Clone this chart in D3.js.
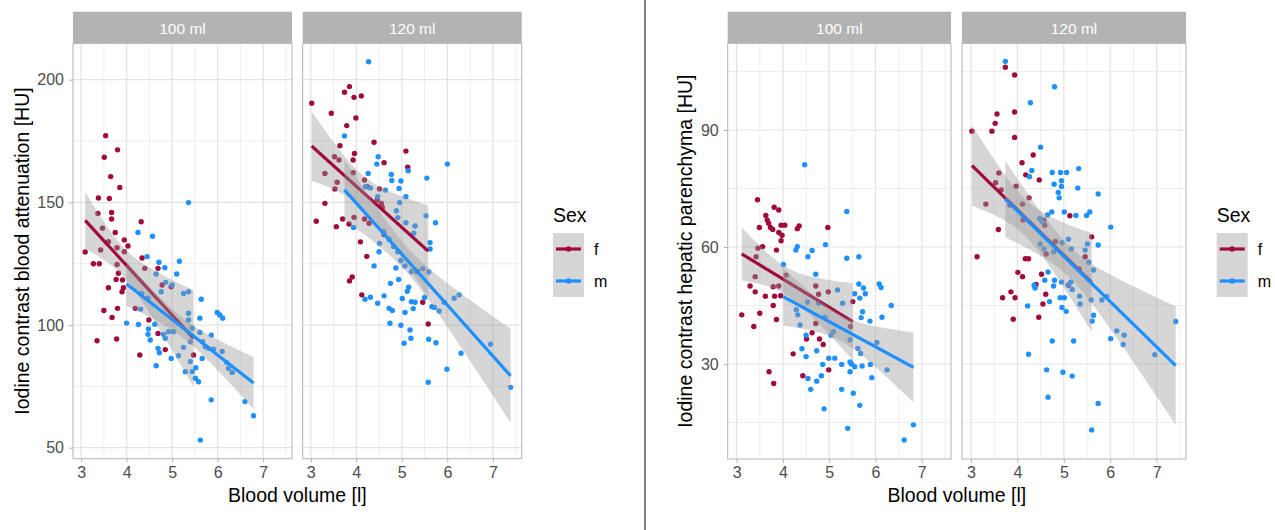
<!DOCTYPE html>
<html><head><meta charset="utf-8">
<script src="https://cdn.jsdelivr.net/npm/d3@7"></script>
<style>
body{margin:0;background:#fff}
svg{display:block;font-family:"Liberation Sans",Arial,Helvetica,sans-serif}
</style>
</head><body>
<svg id="chart" width="1275" height="530"></svg>
<script>
// ---------- categories / ticks ----------
const facets = ["100 ml", "120 ml"];
const sexes = ["f", "m"];
const xTicks = [3, 4, 5, 6, 7];
const xMinor = [3.5, 4.5, 5.5, 6.5, 7.5];
const attYTicks = [50, 100, 150, 200];
const attYMinor = [75, 125, 175];
const hepYTicks = [30, 60, 90];
const hepYMinor = [15, 45, 75, 105];
const xTitle = "Blood volume [l]";
const attTitle = "Iodine contrast blood attenuation [HU]";
const hepTitle = "Iodine contrast hepatic parenchyma [HU]";
const legendTitle = "Sex";

// ---------- data: [blood volume (l), HU] ----------
const att100F = [[3.54,177.2],[3.80,171.4],[3.51,168.4],[3.65,160.5],[3.85,156.1],[3.38,151.8],[3.62,151.6],[3.37,145.5],[3.67,145.9],[3.67,143.2],[4.32,142.1],[3.75,137.7],[3.47,139.5],[3.95,134.7],[4.03,132.2],[3.60,134.0],[3.95,129.9],[3.43,130.6],[3.09,129.8],[3.79,131.5],[3.27,125.0],[3.40,125.0],[4.34,127.3],[3.79,124.7],[4.40,123.1],[4.69,123.1],[3.82,121.1],[3.77,118.6],[3.91,118.4],[3.93,115.2],[3.60,115.2],[3.90,113.6],[3.50,105.9],[3.68,103.1],[3.80,106.8],[4.19,106.8],[4.49,102.1],[4.69,96.6],[3.35,93.6],[3.78,94.3],[4.29,87.8],[4.85,90.0],[4.98,115.6],[4.78,116.3],[5.47,87.8]];
const att100M = [[5.36,149.9],[4.25,137.7],[4.57,136.2],[4.45,127.9],[4.71,125.6],[5.16,126.0],[4.84,123.4],[5.10,120.8],[4.65,120.8],[4.86,117.4],[5.00,116.3],[4.76,113.6],[5.25,112.9],[5.36,113.6],[5.64,110.5],[4.33,112.9],[4.47,110.9],[4.31,106.5],[4.00,100.8],[4.26,100.2],[4.62,100.3],[4.48,98.4],[4.47,96.2],[4.52,93.9],[4.81,96.2],[4.92,97.3],[5.03,97.3],[4.85,94.6],[4.69,90.5],[4.72,88.7],[5.14,87.5],[4.98,86.4],[4.65,83.4],[5.29,81.0],[5.44,81.0],[5.40,85.1],[5.52,82.6],[5.51,78.3],[5.58,76.9],[5.61,102.8],[5.36,104.8],[5.36,102.1],[5.44,98.7],[5.67,93.2],[5.61,97.0],[5.86,95.9],[5.99,105.1],[6.05,104.1],[6.11,102.8],[5.73,91.2],[5.80,90.5],[5.91,90.2],[6.10,89.2],[5.66,86.4],[6.20,84.7],[6.24,82.4],[6.32,80.7],[5.86,69.5],[6.60,68.8],[6.79,63.0],[5.62,53.1],[5.40,93.2],[5.25,90.9]];
const att120F = [[3.02,190.4],[3.74,194.9],[3.85,197.2],[3.95,192.8],[4.11,193.4],[3.45,186.3],[3.99,184.4],[3.79,181.3],[4.39,174.5],[3.64,173.1],[5.09,170.9],[3.96,169.9],[3.93,167.3],[4.61,166.2],[5.13,164.3],[3.52,168.6],[3.62,167.3],[3.31,161.8],[3.93,162.1],[4.18,159.1],[3.58,158.2],[3.53,155.5],[4.51,155.5],[4.24,156.4],[3.31,149.6],[4.46,151.0],[4.55,149.6],[4.57,147.9],[3.12,142.3],[3.56,140.1],[3.70,143.2],[3.84,141.2],[3.95,143.9],[4.18,143.2],[4.28,141.5],[4.09,133.9],[4.23,128.0],[3.85,118.0],[3.91,119.6],[4.12,112.3],[5.46,109.3],[5.58,100.4],[4.61,136.9],[5.34,121.8]];
const att120M = [[4.27,207.3],[3.74,177.1],[4.48,168.6],[4.45,165.6],[5.14,162.9],[6.00,165.6],[4.26,161.8],[4.77,161.4],[4.78,158.9],[4.98,158.7],[5.55,159.9],[4.20,156.4],[4.31,155.9],[4.64,155.0],[4.94,155.7],[5.09,152.3],[4.95,149.9],[4.47,152.3],[4.88,146.6],[4.91,143.8],[5.09,141.7],[5.53,144.5],[5.74,141.7],[5.29,140.4],[5.26,137.4],[3.94,139.8],[4.51,133.3],[4.50,129.9],[4.60,138.1],[4.72,135.0],[4.82,132.0],[4.91,129.9],[5.62,133.6],[5.62,131.0],[4.39,124.1],[4.87,123.3],[4.98,126.3],[5.07,124.1],[5.21,121.8],[5.46,123.0],[5.59,121.6],[4.75,117.0],[4.93,118.6],[5.15,115.4],[5.12,113.8],[4.19,110.5],[4.31,111.3],[4.47,108.9],[4.61,111.9],[5.01,110.8],[5.21,109.5],[5.29,109.3],[5.25,106.7],[4.72,106.8],[4.79,105.9],[5.07,105.1],[5.50,111.2],[5.66,107.5],[5.72,107.2],[5.82,105.7],[5.93,109.3],[6.15,110.9],[6.26,112.3],[4.74,100.7],[4.98,99.9],[5.18,98.0],[5.20,94.6],[5.05,92.6],[5.59,94.2],[5.75,92.8],[6.30,88.5],[6.95,92.2],[5.99,82.0],[5.58,76.7],[7.39,74.6]];
const hep100F = [[3.45,72.1],[3.81,70.2],[3.91,69.5],[3.63,68.1],[3.66,66.9],[3.69,66.1],[3.49,65.0],[3.73,65.0],[3.78,64.5],[3.96,65.6],[4.04,65.6],[3.91,63.7],[3.98,63.0],[3.96,61.6],[4.31,64.7],[4.35,65.4],[4.97,65.0],[3.56,60.1],[3.46,59.7],[3.86,59.2],[3.42,57.5],[3.40,52.4],[4.07,52.8],[3.29,50.0],[3.40,48.5],[3.62,47.4],[3.79,49.8],[3.91,50.0],[3.82,47.4],[3.95,47.5],[3.79,45.0],[3.11,42.6],[3.50,43.0],[3.86,41.4],[3.37,39.6],[4.71,50.0],[4.77,47.9],[4.98,48.5],[5.51,46.0],[4.71,40.4],[4.63,38.0],[4.51,36.4],[4.79,36.4],[4.87,35.0],[4.22,32.6],[4.99,28.5],[3.70,28.0],[3.80,25.0],[4.43,27.0],[5.46,39.6]];
const hep100M = [[4.47,81.1],[5.38,69.1],[4.92,60.6],[4.31,60.1],[4.28,59.2],[4.63,59.1],[4.54,57.5],[5.38,57.1],[5.64,57.5],[4.01,55.5],[4.71,53.0],[5.64,50.5],[5.74,49.5],[6.08,50.5],[6.12,49.6],[5.55,48.0],[5.78,48.0],[5.66,46.9],[5.18,49.0],[5.29,45.6],[4.53,45.9],[4.77,45.6],[6.34,45.0],[4.29,43.9],[4.32,42.6],[5.72,43.4],[5.69,41.9],[6.14,42.0],[5.88,41.0],[4.37,40.0],[4.50,37.4],[4.91,42.0],[5.04,37.4],[5.09,38.3],[5.45,36.2],[5.62,34.0],[5.68,32.7],[4.41,33.9],[4.73,33.4],[4.50,31.9],[4.99,31.5],[5.12,31.5],[4.86,29.9],[5.27,29.9],[5.45,30.5],[5.48,30.0],[5.55,29.3],[5.71,29.5],[5.89,29.9],[5.45,28.0],[6.03,35.5],[6.25,28.5],[4.54,26.3],[4.83,27.0],[4.73,25.6],[5.92,26.5],[4.60,23.5],[5.27,23.5],[5.52,22.5],[4.89,18.5],[5.66,19.4],[5.40,13.5],[6.82,14.4],[6.62,10.5]];
const hep120F = [[3.74,106.1],[3.94,104.1],[3.56,94.1],[3.94,94.6],[3.52,91.7],[3.02,89.7],[3.45,89.7],[3.94,88.1],[4.34,83.6],[4.10,81.6],[4.18,78.5],[4.47,77.2],[3.60,79.0],[3.53,76.5],[3.97,75.6],[3.65,74.6],[4.25,72.6],[3.32,71.0],[4.11,71.0],[3.84,70.8],[4.12,66.9],[4.57,66.9],[4.59,65.6],[5.13,68.0],[3.59,64.5],[5.60,62.6],[4.82,61.4],[5.46,57.5],[3.13,57.5],[4.17,57.0],[4.24,57.0],[4.62,58.2],[4.01,53.5],[4.11,52.4],[4.52,53.0],[5.33,54.4],[4.40,50.4],[4.61,47.9],[3.86,48.5],[3.68,47.0],[3.95,47.0],[4.55,45.4],[3.91,41.5],[4.46,42.0],[5.10,50.2]];
const hep120M = [[3.74,107.6],[4.80,101.1],[4.28,97.0],[4.50,85.6],[4.31,79.6],[4.26,78.0],[4.75,79.1],[4.93,79.1],[5.06,79.1],[5.32,80.1],[4.95,77.0],[4.79,76.1],[4.95,75.5],[5.30,75.1],[4.88,74.0],[4.90,72.6],[5.74,73.6],[4.74,69.0],[5.01,69.0],[5.26,68.1],[5.49,68.1],[5.56,69.0],[4.65,68.2],[6.01,65.1],[4.48,67.3],[4.53,66.5],[5.10,62.0],[4.96,61.1],[4.49,60.8],[4.57,59.5],[4.78,58.8],[5.16,59.5],[5.46,59.2],[5.51,60.8],[5.74,60.5],[5.54,56.1],[5.64,54.1],[4.66,53.6],[4.59,51.5],[4.80,51.5],[4.95,51.0],[4.36,50.2],[4.38,49.5],[4.78,50.0],[5.09,50.3],[5.15,51.0],[5.18,49.1],[5.34,47.4],[4.69,46.0],[4.92,47.0],[5.01,47.0],[4.96,44.5],[5.05,43.5],[5.35,45.4],[5.59,46.4],[5.82,46.4],[5.92,47.3],[4.22,44.9],[5.64,42.5],[5.61,41.0],[6.14,38.5],[6.30,37.4],[6.01,36.5],[6.28,35.0],[6.96,32.4],[7.41,40.9],[4.75,35.9],[5.21,35.9],[4.24,32.5],[4.63,28.5],[4.98,27.9],[5.18,26.9],[4.66,21.5],[5.74,19.9],[5.60,13.1]];

// ---------- styles ----------
const sexColor = d3.scaleOrdinal().domain(sexes).range(["#a00a3c", "#1e90ff"]);
const tickColor = "#4d4d4d", frameColor = "#b3b3b3", gridColor = "#e3e3e3";
const tickFont = 16, titleFont = 19.5, stripFont = 15.5, legendFont = 16;

const svg = d3.select("#chart");
svg.append("rect").attr("width", 1275).attr("height", 530).attr("fill", "#fff");

// linear model fit with 95% confidence band (as geom_smooth(method = "lm"))
function tQuant(v) {
  const z = 1.959964;
  return z + (z ** 3 + z) / (4 * v) + (5 * z ** 5 + 16 * z ** 3 + 3 * z) / (96 * v * v);
}
function lmBand(pts) {
  const n = pts.length;
  const mx = d3.mean(pts, d => d[0]), my = d3.mean(pts, d => d[1]);
  let sxx = 0, sxy = 0;
  pts.forEach(([a, b]) => { sxx += (a - mx) ** 2; sxy += (a - mx) * (b - my); });
  const slope = sxy / sxx, icpt = my - slope * mx;
  let sse = 0;
  pts.forEach(([a, b]) => { sse += (b - icpt - slope * a) ** 2; });
  const s = Math.sqrt(sse / (n - 2)), t = tQuant(n - 2);
  const [x0, x1] = d3.extent(pts, d => d[0]);
  return d3.range(80).map(k => {
    const xv = x0 + (x1 - x0) * k / 79;
    const f = icpt + slope * xv;
    const se = s * Math.sqrt(1 / n + (xv - mx) ** 2 / sxx);
    return { x: xv, y: f, lo: f - t * se, hi: f + t * se };
  });
}

function drawChart(cfg) {
  const g = svg.append("g");
  const y = d3.scaleLinear().domain(cfg.yDomain).range([cfg.bottom, cfg.top]);
  cfg.panels.forEach((p, i) => {
    const x = d3.scaleLinear().domain(cfg.xDomain).range([p.left, p.right]);
    const w = p.right - p.left;
    const pg = g.append("g");
    // strip
    pg.append("rect").attr("x", p.left).attr("y", cfg.stripTop).attr("width", w)
      .attr("height", cfg.top - cfg.stripTop).attr("fill", frameColor);
    pg.append("text").attr("x", (p.left + p.right) / 2).attr("y", (cfg.stripTop + cfg.top) / 2 + 1)
      .attr("text-anchor", "middle").attr("dominant-baseline", "central")
      .attr("fill", "#fff").attr("font-size", stripFont).text(facets[i]);
    // grid
    const grid = pg.append("g");
    cfg.yMinor.forEach(v => grid.append("line").attr("x1", p.left).attr("x2", p.right)
      .attr("y1", y(v)).attr("y2", y(v)).attr("stroke", gridColor).attr("stroke-width", 0.6));
    xMinor.forEach(v => grid.append("line").attr("x1", x(v)).attr("x2", x(v))
      .attr("y1", cfg.top).attr("y2", cfg.bottom).attr("stroke", gridColor).attr("stroke-width", 0.6));
    cfg.yTicks.forEach(v => grid.append("line").attr("x1", p.left).attr("x2", p.right)
      .attr("y1", y(v)).attr("y2", y(v)).attr("stroke", gridColor).attr("stroke-width", 1.2));
    xTicks.forEach(v => grid.append("line").attr("x1", x(v)).attr("x2", x(v))
      .attr("y1", cfg.top).attr("y2", cfg.bottom).attr("stroke", gridColor).attr("stroke-width", 1.2));
    // points
    const series = cfg.data[i];
    sexes.forEach((s, si) => {
      pg.append("g").selectAll("circle").data(series[si]).join("circle")
        .attr("cx", d => x(d[0])).attr("cy", d => y(d[1])).attr("r", 2.7)
        .attr("fill", sexColor(s));
    });
    // smooths
    sexes.forEach((s, si) => {
      const band = lmBand(series[si]);
      pg.append("path").datum(band)
        .attr("d", d3.area().x(d => x(d.x)).y0(d => y(d.lo)).y1(d => y(d.hi)))
        .attr("fill", "#999999").attr("fill-opacity", 0.4);
      pg.append("path").datum(band)
        .attr("d", d3.line().x(d => x(d.x)).y(d => y(d.y)))
        .attr("fill", "none").attr("stroke", sexColor(s)).attr("stroke-width", 3.2);
    });
    // frame
    pg.append("rect").attr("x", p.left).attr("y", cfg.top).attr("width", w)
      .attr("height", cfg.bottom - cfg.top).attr("fill", "none").attr("stroke", frameColor).attr("stroke-width", 1);
    // x axis
    const xa = pg.append("g").attr("transform", `translate(0,${cfg.bottom})`)
      .call(d3.axisBottom(x).tickValues(xTicks).tickSize(4).tickPadding(4).tickFormat(d3.format("d")));
    xa.select(".domain").remove();
    xa.selectAll("line").attr("stroke", frameColor);
    xa.selectAll("text").attr("fill", tickColor).attr("font-size", tickFont)
      .attr("font-family", "Liberation Sans, Arial, sans-serif");
    if (i === 0) {
      const ya = pg.append("g").attr("transform", `translate(${p.left},0)`)
        .call(d3.axisLeft(y).tickValues(cfg.yTicks).tickSize(4).tickPadding(5).tickFormat(d3.format("d")));
      ya.select(".domain").remove();
      ya.selectAll("line").attr("stroke", frameColor);
      ya.selectAll("text").attr("fill", tickColor).attr("font-size", tickFont)
        .attr("font-family", "Liberation Sans, Arial, sans-serif");
    }
  });
  // titles
  const l = cfg.panels[0].left, r = cfg.panels[1].right;
  g.append("text").attr("x", (l + r) / 2).attr("y", cfg.xTitleY).attr("text-anchor", "middle")
    .attr("font-size", titleFont).attr("fill", "#000").text(xTitle);
  g.append("text").attr("transform", `translate(${cfg.yTitleX},${(cfg.top + cfg.bottom) / 2}) rotate(-90)`)
    .attr("text-anchor", "middle").attr("dominant-baseline", "central")
    .attr("font-size", titleFont).attr("fill", "#000").text(cfg.yTitle);
  // legend
  const lg = g.append("g").attr("transform", `translate(${cfg.legendX},${cfg.legendY})`);
  lg.append("text").attr("x", 0).attr("y", 0).attr("font-size", titleFont).attr("fill", "#000").text(legendTitle);
  sexes.forEach((s, si) => {
    const ky = 11 + si * 32;
    lg.append("rect").attr("x", 0).attr("y", ky).attr("width", 31).attr("height", 32)
      .attr("fill", "#999999").attr("fill-opacity", 0.4);
    lg.append("line").attr("x1", 3).attr("x2", 28).attr("y1", ky + 16).attr("y2", ky + 16)
      .attr("stroke", sexColor(s)).attr("stroke-width", 3.2);
    lg.append("circle").attr("cx", 15.5).attr("cy", ky + 16).attr("r", 2.7).attr("fill", sexColor(s));
    lg.append("text").attr("x", 41).attr("y", ky + 16).attr("dominant-baseline", "central")
      .attr("font-size", legendFont).attr("fill", "#000").text(s);
  });
}

drawChart({
  data: [[att100F, att100M], [att120F, att120M]],
  yDomain: [45.52, 214.84], yTicks: attYTicks, yMinor: attYMinor,
  xDomain: [2.822, 7.634],
  panels: [{ left: 73, right: 292 }, { left: 302.7, right: 521.7 }],
  top: 43.3, bottom: 458.7, stripTop: 11.7,
  xTitleY: 502, yTitleX: 22, yTitle: attTitle,
  legendX: 553, legendY: 222
});
drawChart({
  data: [[hep100F, hep100M], [hep120F, hep120M]],
  yDomain: [5.64, 112.23], yTicks: hepYTicks, yMinor: hepYMinor,
  xDomain: [2.806, 7.632],
  panels: [{ left: 727.7, right: 951 }, { left: 962, right: 1186 }],
  top: 43.3, bottom: 459, stripTop: 11.7,
  xTitleY: 502, yTitleX: 685, yTitle: hepTitle,
  legendX: 1216.7, legendY: 222
});

// divider between the two figures
svg.append("line").attr("x1", 645).attr("x2", 645).attr("y1", 0).attr("y2", 530)
  .attr("stroke", "#555").attr("stroke-width", 1.5);
</script>
</body></html>
